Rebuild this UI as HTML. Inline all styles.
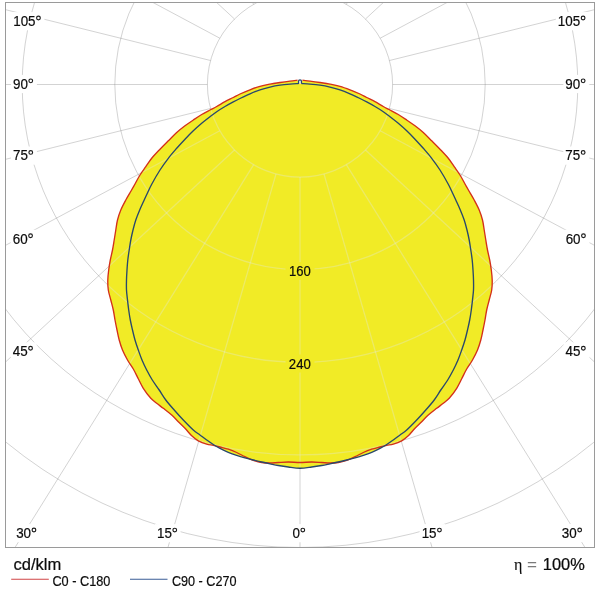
<!DOCTYPE html>
<html><head><meta charset="utf-8"><title>Polar diagram</title>
<style>
html,body{margin:0;padding:0;background:#fff;width:600px;height:600px;overflow:hidden}
svg{display:block}
text{font-family:"Liberation Sans",sans-serif;fill:#0c0c0c;stroke:#0c0c0c;stroke-width:0.22px}
</style></head><body>
<svg width="600" height="600" viewBox="0 0 600 600">
<defs>
<clipPath id="frame"><rect x="5.5" y="2.5" width="589" height="545"/></clipPath>
<clipPath id="fillclip"><path d="M297.50,80.20C296.25,80.35 292.92,80.72 290.00,81.10C287.08,81.48 283.33,82.00 280.00,82.50C276.67,83.00 273.33,83.47 270.00,84.10C266.67,84.73 263.33,85.35 260.00,86.30C256.67,87.25 253.33,88.52 250.00,89.80C246.67,91.08 242.78,92.72 240.00,94.00C237.22,95.28 235.80,96.22 233.30,97.50C230.80,98.78 227.77,100.20 225.00,101.70C222.23,103.20 219.20,105.12 216.70,106.50C214.20,107.88 212.50,108.67 210.00,110.00C207.50,111.33 204.48,112.83 201.70,114.50C198.92,116.17 196.08,118.12 193.30,120.00C190.52,121.88 187.77,123.72 185.00,125.80C182.23,127.88 179.48,130.00 176.70,132.50C173.92,135.00 171.08,138.02 168.30,140.80C165.52,143.58 162.77,146.28 160.00,149.20C157.23,152.12 154.07,155.38 151.70,158.30C149.33,161.22 147.75,163.92 145.80,166.70C143.85,169.48 141.80,172.12 140.00,175.00C138.20,177.88 136.45,181.42 135.00,184.00C133.55,186.58 132.83,187.83 131.30,190.50C129.77,193.17 127.55,196.75 125.80,200.00C124.05,203.25 122.18,206.67 120.80,210.00C119.42,213.33 118.33,216.67 117.50,220.00C116.67,223.33 116.35,226.67 115.80,230.00C115.25,233.33 114.75,236.67 114.20,240.00C113.65,243.33 113.15,246.67 112.50,250.00C111.85,253.33 110.93,256.67 110.30,260.00C109.67,263.33 109.12,266.67 108.70,270.00C108.28,273.33 107.87,276.67 107.80,280.00C107.73,283.33 107.80,286.67 108.30,290.00C108.80,293.33 109.97,296.67 110.80,300.00C111.63,303.33 112.60,306.67 113.30,310.00C114.00,313.33 114.38,316.67 115.00,320.00C115.62,323.33 116.30,326.67 117.00,330.00C117.70,333.33 118.28,336.67 119.20,340.00C120.12,343.33 121.12,346.67 122.50,350.00C123.88,353.33 125.70,356.83 127.50,360.00C129.30,363.17 131.50,365.87 133.30,369.00C135.10,372.13 136.63,375.58 138.30,378.80C139.97,382.02 141.22,385.05 143.30,388.30C145.38,391.55 148.57,395.80 150.80,398.30C153.03,400.80 154.62,401.63 156.70,403.30C158.78,404.97 160.80,406.35 163.30,408.30C165.80,410.25 169.20,412.77 171.70,415.00C174.20,417.23 176.08,419.48 178.30,421.70C180.52,423.92 182.77,425.95 185.00,428.30C187.23,430.65 189.48,433.72 191.70,435.80C193.92,437.88 195.80,439.40 198.30,440.80C200.80,442.20 204.20,443.45 206.70,444.20C209.20,444.95 211.08,444.83 213.30,445.30C215.52,445.77 217.50,446.35 220.00,447.00C222.50,447.65 225.52,448.28 228.30,449.20C231.08,450.12 233.92,451.25 236.70,452.50C239.48,453.75 242.23,455.40 245.00,456.70C247.77,458.00 250.52,459.33 253.30,460.30C256.08,461.27 258.92,462.05 261.70,462.50C264.48,462.95 267.23,463.00 270.00,463.00C272.77,463.00 275.25,462.67 278.30,462.50C281.35,462.33 284.68,462.00 288.30,462.00C291.92,462.00 296.10,462.50 300.00,462.50C303.90,462.50 308.08,462.00 311.70,462.00C315.32,462.00 318.65,462.33 321.70,462.50C324.75,462.67 327.23,463.00 330.00,463.00C332.77,463.00 335.52,462.95 338.30,462.50C341.08,462.05 343.92,461.27 346.70,460.30C349.48,459.33 352.23,458.00 355.00,456.70C357.77,455.40 360.52,453.75 363.30,452.50C366.08,451.25 368.92,450.12 371.70,449.20C374.48,448.28 377.50,447.65 380.00,447.00C382.50,446.35 384.48,445.77 386.70,445.30C388.92,444.83 390.80,444.95 393.30,444.20C395.80,443.45 399.20,442.20 401.70,440.80C404.20,439.40 406.08,437.88 408.30,435.80C410.52,433.72 412.77,430.65 415.00,428.30C417.23,425.95 419.48,423.92 421.70,421.70C423.92,419.48 425.80,417.23 428.30,415.00C430.80,412.77 434.20,410.25 436.70,408.30C439.20,406.35 441.22,404.97 443.30,403.30C445.38,401.63 446.97,400.80 449.20,398.30C451.43,395.80 454.62,391.55 456.70,388.30C458.78,385.05 460.03,382.02 461.70,378.80C463.37,375.58 464.90,372.13 466.70,369.00C468.50,365.87 470.70,363.17 472.50,360.00C474.30,356.83 476.12,353.33 477.50,350.00C478.88,346.67 479.88,343.33 480.80,340.00C481.72,336.67 482.30,333.33 483.00,330.00C483.70,326.67 484.38,323.33 485.00,320.00C485.62,316.67 486.00,313.33 486.70,310.00C487.40,306.67 488.37,303.33 489.20,300.00C490.03,296.67 491.20,293.33 491.70,290.00C492.20,286.67 492.27,283.33 492.20,280.00C492.13,276.67 491.72,273.33 491.30,270.00C490.88,266.67 490.33,263.33 489.70,260.00C489.07,256.67 488.15,253.33 487.50,250.00C486.85,246.67 486.35,243.33 485.80,240.00C485.25,236.67 484.75,233.33 484.20,230.00C483.65,226.67 483.33,223.33 482.50,220.00C481.67,216.67 480.58,213.33 479.20,210.00C477.82,206.67 475.95,203.25 474.20,200.00C472.45,196.75 470.23,193.17 468.70,190.50C467.17,187.83 466.45,186.58 465.00,184.00C463.55,181.42 461.80,177.88 460.00,175.00C458.20,172.12 456.15,169.48 454.20,166.70C452.25,163.92 450.67,161.22 448.30,158.30C445.93,155.38 442.77,152.12 440.00,149.20C437.23,146.28 434.48,143.58 431.70,140.80C428.92,138.02 426.08,135.00 423.30,132.50C420.52,130.00 417.77,127.88 415.00,125.80C412.23,123.72 409.48,121.88 406.70,120.00C403.92,118.12 401.08,116.17 398.30,114.50C395.52,112.83 392.50,111.33 390.00,110.00C387.50,108.67 385.80,107.88 383.30,106.50C380.80,105.12 377.77,103.20 375.00,101.70C372.23,100.20 369.20,98.78 366.70,97.50C364.20,96.22 362.78,95.28 360.00,94.00C357.22,92.72 353.33,91.08 350.00,89.80C346.67,88.52 343.33,87.25 340.00,86.30C336.67,85.35 333.33,84.73 330.00,84.10C326.67,83.47 323.33,83.00 320.00,82.50C316.67,82.00 312.92,81.48 310.00,81.10C307.08,80.72 303.75,80.35 302.50,80.20L301.4,83.6L298.6,83.6Z"/><path d="M298.00,83.60C296.67,83.68 293.00,83.83 290.00,84.10C287.00,84.37 283.33,84.70 280.00,85.20C276.67,85.70 273.33,86.33 270.00,87.10C266.67,87.87 263.33,88.68 260.00,89.80C256.67,90.92 253.33,92.35 250.00,93.80C246.67,95.25 242.78,97.15 240.00,98.50C237.22,99.85 235.80,100.57 233.30,101.90C230.80,103.23 227.77,104.87 225.00,106.50C222.23,108.13 219.20,110.00 216.70,111.70C214.20,113.40 212.50,114.77 210.00,116.70C207.50,118.63 204.48,120.95 201.70,123.30C198.92,125.65 196.08,128.15 193.30,130.80C190.52,133.45 187.77,136.28 185.00,139.20C182.23,142.12 179.48,145.12 176.70,148.30C173.92,151.48 171.08,154.68 168.30,158.30C165.52,161.92 162.77,165.68 160.00,170.00C157.23,174.32 153.75,180.45 151.70,184.20C149.65,187.95 148.95,189.87 147.70,192.50C146.45,195.13 145.53,197.08 144.20,200.00C142.87,202.92 141.10,206.67 139.70,210.00C138.30,213.33 136.92,216.67 135.80,220.00C134.68,223.33 133.83,226.67 133.00,230.00C132.17,233.33 131.43,236.67 130.80,240.00C130.17,243.33 129.70,246.67 129.20,250.00C128.70,253.33 128.17,256.67 127.80,260.00C127.43,263.33 127.22,266.67 127.00,270.00C126.78,273.33 126.58,276.67 126.50,280.00C126.42,283.33 126.33,286.67 126.50,290.00C126.67,293.33 127.13,296.67 127.50,300.00C127.87,303.33 128.23,306.67 128.70,310.00C129.17,313.33 129.67,316.67 130.30,320.00C130.93,323.33 131.72,326.67 132.50,330.00C133.28,333.33 134.03,336.67 135.00,340.00C135.97,343.33 137.13,346.67 138.30,350.00C139.47,353.33 140.60,356.67 142.00,360.00C143.40,363.33 144.98,366.67 146.70,370.00C148.42,373.33 150.22,376.67 152.30,380.00C154.38,383.33 156.95,386.67 159.20,390.00C161.45,393.33 163.30,396.67 165.80,400.00C168.30,403.33 171.28,406.67 174.20,410.00C177.12,413.33 180.12,416.67 183.30,420.00C186.48,423.33 190.52,427.50 193.30,430.00C196.08,432.50 197.77,433.33 200.00,435.00C202.23,436.67 204.48,438.42 206.70,440.00C208.92,441.58 211.08,443.12 213.30,444.50C215.52,445.88 217.50,447.00 220.00,448.30C222.50,449.60 225.52,451.13 228.30,452.30C231.08,453.47 233.92,454.38 236.70,455.30C239.48,456.22 242.23,457.02 245.00,457.80C247.77,458.58 250.52,459.30 253.30,460.00C256.08,460.70 258.92,461.37 261.70,462.00C264.48,462.63 267.23,463.22 270.00,463.80C272.77,464.38 275.25,464.97 278.30,465.50C281.35,466.03 284.68,466.55 288.30,467.00C291.92,467.45 296.10,468.20 300.00,468.20C303.90,468.20 308.08,467.45 311.70,467.00C315.32,466.55 318.65,466.03 321.70,465.50C324.75,464.97 327.23,464.38 330.00,463.80C332.77,463.22 335.52,462.63 338.30,462.00C341.08,461.37 343.92,460.70 346.70,460.00C349.48,459.30 352.23,458.58 355.00,457.80C357.77,457.02 360.52,456.22 363.30,455.30C366.08,454.38 368.92,453.47 371.70,452.30C374.48,451.13 377.50,449.60 380.00,448.30C382.50,447.00 384.48,445.88 386.70,444.50C388.92,443.12 391.08,441.58 393.30,440.00C395.52,438.42 397.77,436.67 400.00,435.00C402.23,433.33 403.92,432.50 406.70,430.00C409.48,427.50 413.52,423.33 416.70,420.00C419.88,416.67 422.88,413.33 425.80,410.00C428.72,406.67 431.70,403.33 434.20,400.00C436.70,396.67 438.55,393.33 440.80,390.00C443.05,386.67 445.62,383.33 447.70,380.00C449.78,376.67 451.58,373.33 453.30,370.00C455.02,366.67 456.60,363.33 458.00,360.00C459.40,356.67 460.53,353.33 461.70,350.00C462.87,346.67 464.03,343.33 465.00,340.00C465.97,336.67 466.72,333.33 467.50,330.00C468.28,326.67 469.07,323.33 469.70,320.00C470.33,316.67 470.83,313.33 471.30,310.00C471.77,306.67 472.13,303.33 472.50,300.00C472.87,296.67 473.33,293.33 473.50,290.00C473.67,286.67 473.58,283.33 473.50,280.00C473.42,276.67 473.22,273.33 473.00,270.00C472.78,266.67 472.57,263.33 472.20,260.00C471.83,256.67 471.30,253.33 470.80,250.00C470.30,246.67 469.83,243.33 469.20,240.00C468.57,236.67 467.83,233.33 467.00,230.00C466.17,226.67 465.32,223.33 464.20,220.00C463.08,216.67 461.70,213.33 460.30,210.00C458.90,206.67 457.13,202.92 455.80,200.00C454.47,197.08 453.55,195.13 452.30,192.50C451.05,189.87 450.35,187.95 448.30,184.20C446.25,180.45 442.77,174.32 440.00,170.00C437.23,165.68 434.48,161.92 431.70,158.30C428.92,154.68 426.08,151.48 423.30,148.30C420.52,145.12 417.77,142.12 415.00,139.20C412.23,136.28 409.48,133.45 406.70,130.80C403.92,128.15 401.08,125.65 398.30,123.30C395.52,120.95 392.50,118.63 390.00,116.70C387.50,114.77 385.80,113.40 383.30,111.70C380.80,110.00 377.77,108.13 375.00,106.50C372.23,104.87 369.20,103.23 366.70,101.90C364.20,100.57 362.78,99.85 360.00,98.50C357.22,97.15 353.33,95.25 350.00,93.80C346.67,92.35 343.33,90.92 340.00,89.80C336.67,88.68 333.33,87.87 330.00,87.10C326.67,86.33 323.33,85.70 320.00,85.20C316.67,84.70 313.00,84.37 310.00,84.10C307.00,83.83 303.33,83.68 302.00,83.60Z"/></clipPath>
</defs>
<rect width="600" height="600" fill="#fff"/>
<g clip-path="url(#frame)">
 <g fill="none" stroke="#787878" stroke-opacity="0.33" stroke-width="1"><circle cx="300.0" cy="84.5" r="92.60"/><circle cx="300.0" cy="84.5" r="185.20"/><circle cx="300.0" cy="84.5" r="277.80"/><circle cx="300.0" cy="84.5" r="370.40"/><circle cx="300.0" cy="84.5" r="463.00"/><circle cx="300.0" cy="84.5" r="555.60"/><line x1="300.00" y1="177.10" x2="300.00" y2="877.10"/><line x1="323.97" y1="173.94" x2="518.55" y2="846.36"/><line x1="346.30" y1="164.69" x2="716.67" y2="758.68"/><line x1="365.48" y1="149.98" x2="879.11" y2="625.56"/><line x1="380.19" y1="130.80" x2="997.52" y2="460.81"/><line x1="389.44" y1="108.47" x2="1068.85" y2="277.03"/><line x1="392.60" y1="84.50" x2="1092.60" y2="84.50"/><line x1="389.44" y1="60.53" x2="1068.85" y2="-108.03"/><line x1="380.19" y1="38.20" x2="997.52" y2="-291.81"/><line x1="365.48" y1="19.02" x2="879.11" y2="-456.56"/><line x1="346.30" y1="4.31" x2="716.67" y2="-589.68"/><line x1="323.97" y1="-4.94" x2="518.55" y2="-677.36"/><line x1="300.00" y1="-8.10" x2="300.00" y2="-708.10"/><line x1="276.03" y1="-4.94" x2="81.45" y2="-677.36"/><line x1="253.70" y1="4.31" x2="-116.67" y2="-589.68"/><line x1="234.52" y1="19.02" x2="-279.11" y2="-456.56"/><line x1="219.81" y1="38.20" x2="-397.52" y2="-291.81"/><line x1="210.56" y1="60.53" x2="-468.85" y2="-108.03"/><line x1="207.40" y1="84.50" x2="-492.60" y2="84.50"/><line x1="210.56" y1="108.47" x2="-468.85" y2="277.03"/><line x1="219.81" y1="130.80" x2="-397.52" y2="460.81"/><line x1="234.52" y1="149.98" x2="-279.11" y2="625.56"/><line x1="253.70" y1="164.69" x2="-116.67" y2="758.68"/><line x1="276.03" y1="173.94" x2="81.45" y2="846.36"/></g>
 <path d="M297.50,80.20C296.25,80.35 292.92,80.72 290.00,81.10C287.08,81.48 283.33,82.00 280.00,82.50C276.67,83.00 273.33,83.47 270.00,84.10C266.67,84.73 263.33,85.35 260.00,86.30C256.67,87.25 253.33,88.52 250.00,89.80C246.67,91.08 242.78,92.72 240.00,94.00C237.22,95.28 235.80,96.22 233.30,97.50C230.80,98.78 227.77,100.20 225.00,101.70C222.23,103.20 219.20,105.12 216.70,106.50C214.20,107.88 212.50,108.67 210.00,110.00C207.50,111.33 204.48,112.83 201.70,114.50C198.92,116.17 196.08,118.12 193.30,120.00C190.52,121.88 187.77,123.72 185.00,125.80C182.23,127.88 179.48,130.00 176.70,132.50C173.92,135.00 171.08,138.02 168.30,140.80C165.52,143.58 162.77,146.28 160.00,149.20C157.23,152.12 154.07,155.38 151.70,158.30C149.33,161.22 147.75,163.92 145.80,166.70C143.85,169.48 141.80,172.12 140.00,175.00C138.20,177.88 136.45,181.42 135.00,184.00C133.55,186.58 132.83,187.83 131.30,190.50C129.77,193.17 127.55,196.75 125.80,200.00C124.05,203.25 122.18,206.67 120.80,210.00C119.42,213.33 118.33,216.67 117.50,220.00C116.67,223.33 116.35,226.67 115.80,230.00C115.25,233.33 114.75,236.67 114.20,240.00C113.65,243.33 113.15,246.67 112.50,250.00C111.85,253.33 110.93,256.67 110.30,260.00C109.67,263.33 109.12,266.67 108.70,270.00C108.28,273.33 107.87,276.67 107.80,280.00C107.73,283.33 107.80,286.67 108.30,290.00C108.80,293.33 109.97,296.67 110.80,300.00C111.63,303.33 112.60,306.67 113.30,310.00C114.00,313.33 114.38,316.67 115.00,320.00C115.62,323.33 116.30,326.67 117.00,330.00C117.70,333.33 118.28,336.67 119.20,340.00C120.12,343.33 121.12,346.67 122.50,350.00C123.88,353.33 125.70,356.83 127.50,360.00C129.30,363.17 131.50,365.87 133.30,369.00C135.10,372.13 136.63,375.58 138.30,378.80C139.97,382.02 141.22,385.05 143.30,388.30C145.38,391.55 148.57,395.80 150.80,398.30C153.03,400.80 154.62,401.63 156.70,403.30C158.78,404.97 160.80,406.35 163.30,408.30C165.80,410.25 169.20,412.77 171.70,415.00C174.20,417.23 176.08,419.48 178.30,421.70C180.52,423.92 182.77,425.95 185.00,428.30C187.23,430.65 189.48,433.72 191.70,435.80C193.92,437.88 195.80,439.40 198.30,440.80C200.80,442.20 204.20,443.45 206.70,444.20C209.20,444.95 211.08,444.83 213.30,445.30C215.52,445.77 217.50,446.35 220.00,447.00C222.50,447.65 225.52,448.28 228.30,449.20C231.08,450.12 233.92,451.25 236.70,452.50C239.48,453.75 242.23,455.40 245.00,456.70C247.77,458.00 250.52,459.33 253.30,460.30C256.08,461.27 258.92,462.05 261.70,462.50C264.48,462.95 267.23,463.00 270.00,463.00C272.77,463.00 275.25,462.67 278.30,462.50C281.35,462.33 284.68,462.00 288.30,462.00C291.92,462.00 296.10,462.50 300.00,462.50C303.90,462.50 308.08,462.00 311.70,462.00C315.32,462.00 318.65,462.33 321.70,462.50C324.75,462.67 327.23,463.00 330.00,463.00C332.77,463.00 335.52,462.95 338.30,462.50C341.08,462.05 343.92,461.27 346.70,460.30C349.48,459.33 352.23,458.00 355.00,456.70C357.77,455.40 360.52,453.75 363.30,452.50C366.08,451.25 368.92,450.12 371.70,449.20C374.48,448.28 377.50,447.65 380.00,447.00C382.50,446.35 384.48,445.77 386.70,445.30C388.92,444.83 390.80,444.95 393.30,444.20C395.80,443.45 399.20,442.20 401.70,440.80C404.20,439.40 406.08,437.88 408.30,435.80C410.52,433.72 412.77,430.65 415.00,428.30C417.23,425.95 419.48,423.92 421.70,421.70C423.92,419.48 425.80,417.23 428.30,415.00C430.80,412.77 434.20,410.25 436.70,408.30C439.20,406.35 441.22,404.97 443.30,403.30C445.38,401.63 446.97,400.80 449.20,398.30C451.43,395.80 454.62,391.55 456.70,388.30C458.78,385.05 460.03,382.02 461.70,378.80C463.37,375.58 464.90,372.13 466.70,369.00C468.50,365.87 470.70,363.17 472.50,360.00C474.30,356.83 476.12,353.33 477.50,350.00C478.88,346.67 479.88,343.33 480.80,340.00C481.72,336.67 482.30,333.33 483.00,330.00C483.70,326.67 484.38,323.33 485.00,320.00C485.62,316.67 486.00,313.33 486.70,310.00C487.40,306.67 488.37,303.33 489.20,300.00C490.03,296.67 491.20,293.33 491.70,290.00C492.20,286.67 492.27,283.33 492.20,280.00C492.13,276.67 491.72,273.33 491.30,270.00C490.88,266.67 490.33,263.33 489.70,260.00C489.07,256.67 488.15,253.33 487.50,250.00C486.85,246.67 486.35,243.33 485.80,240.00C485.25,236.67 484.75,233.33 484.20,230.00C483.65,226.67 483.33,223.33 482.50,220.00C481.67,216.67 480.58,213.33 479.20,210.00C477.82,206.67 475.95,203.25 474.20,200.00C472.45,196.75 470.23,193.17 468.70,190.50C467.17,187.83 466.45,186.58 465.00,184.00C463.55,181.42 461.80,177.88 460.00,175.00C458.20,172.12 456.15,169.48 454.20,166.70C452.25,163.92 450.67,161.22 448.30,158.30C445.93,155.38 442.77,152.12 440.00,149.20C437.23,146.28 434.48,143.58 431.70,140.80C428.92,138.02 426.08,135.00 423.30,132.50C420.52,130.00 417.77,127.88 415.00,125.80C412.23,123.72 409.48,121.88 406.70,120.00C403.92,118.12 401.08,116.17 398.30,114.50C395.52,112.83 392.50,111.33 390.00,110.00C387.50,108.67 385.80,107.88 383.30,106.50C380.80,105.12 377.77,103.20 375.00,101.70C372.23,100.20 369.20,98.78 366.70,97.50C364.20,96.22 362.78,95.28 360.00,94.00C357.22,92.72 353.33,91.08 350.00,89.80C346.67,88.52 343.33,87.25 340.00,86.30C336.67,85.35 333.33,84.73 330.00,84.10C326.67,83.47 323.33,83.00 320.00,82.50C316.67,82.00 312.92,81.48 310.00,81.10C307.08,80.72 303.75,80.35 302.50,80.20L301.4,83.6L298.6,83.6Z" fill="#f1eb26"/>
 <path d="M298.00,83.60C296.67,83.68 293.00,83.83 290.00,84.10C287.00,84.37 283.33,84.70 280.00,85.20C276.67,85.70 273.33,86.33 270.00,87.10C266.67,87.87 263.33,88.68 260.00,89.80C256.67,90.92 253.33,92.35 250.00,93.80C246.67,95.25 242.78,97.15 240.00,98.50C237.22,99.85 235.80,100.57 233.30,101.90C230.80,103.23 227.77,104.87 225.00,106.50C222.23,108.13 219.20,110.00 216.70,111.70C214.20,113.40 212.50,114.77 210.00,116.70C207.50,118.63 204.48,120.95 201.70,123.30C198.92,125.65 196.08,128.15 193.30,130.80C190.52,133.45 187.77,136.28 185.00,139.20C182.23,142.12 179.48,145.12 176.70,148.30C173.92,151.48 171.08,154.68 168.30,158.30C165.52,161.92 162.77,165.68 160.00,170.00C157.23,174.32 153.75,180.45 151.70,184.20C149.65,187.95 148.95,189.87 147.70,192.50C146.45,195.13 145.53,197.08 144.20,200.00C142.87,202.92 141.10,206.67 139.70,210.00C138.30,213.33 136.92,216.67 135.80,220.00C134.68,223.33 133.83,226.67 133.00,230.00C132.17,233.33 131.43,236.67 130.80,240.00C130.17,243.33 129.70,246.67 129.20,250.00C128.70,253.33 128.17,256.67 127.80,260.00C127.43,263.33 127.22,266.67 127.00,270.00C126.78,273.33 126.58,276.67 126.50,280.00C126.42,283.33 126.33,286.67 126.50,290.00C126.67,293.33 127.13,296.67 127.50,300.00C127.87,303.33 128.23,306.67 128.70,310.00C129.17,313.33 129.67,316.67 130.30,320.00C130.93,323.33 131.72,326.67 132.50,330.00C133.28,333.33 134.03,336.67 135.00,340.00C135.97,343.33 137.13,346.67 138.30,350.00C139.47,353.33 140.60,356.67 142.00,360.00C143.40,363.33 144.98,366.67 146.70,370.00C148.42,373.33 150.22,376.67 152.30,380.00C154.38,383.33 156.95,386.67 159.20,390.00C161.45,393.33 163.30,396.67 165.80,400.00C168.30,403.33 171.28,406.67 174.20,410.00C177.12,413.33 180.12,416.67 183.30,420.00C186.48,423.33 190.52,427.50 193.30,430.00C196.08,432.50 197.77,433.33 200.00,435.00C202.23,436.67 204.48,438.42 206.70,440.00C208.92,441.58 211.08,443.12 213.30,444.50C215.52,445.88 217.50,447.00 220.00,448.30C222.50,449.60 225.52,451.13 228.30,452.30C231.08,453.47 233.92,454.38 236.70,455.30C239.48,456.22 242.23,457.02 245.00,457.80C247.77,458.58 250.52,459.30 253.30,460.00C256.08,460.70 258.92,461.37 261.70,462.00C264.48,462.63 267.23,463.22 270.00,463.80C272.77,464.38 275.25,464.97 278.30,465.50C281.35,466.03 284.68,466.55 288.30,467.00C291.92,467.45 296.10,468.20 300.00,468.20C303.90,468.20 308.08,467.45 311.70,467.00C315.32,466.55 318.65,466.03 321.70,465.50C324.75,464.97 327.23,464.38 330.00,463.80C332.77,463.22 335.52,462.63 338.30,462.00C341.08,461.37 343.92,460.70 346.70,460.00C349.48,459.30 352.23,458.58 355.00,457.80C357.77,457.02 360.52,456.22 363.30,455.30C366.08,454.38 368.92,453.47 371.70,452.30C374.48,451.13 377.50,449.60 380.00,448.30C382.50,447.00 384.48,445.88 386.70,444.50C388.92,443.12 391.08,441.58 393.30,440.00C395.52,438.42 397.77,436.67 400.00,435.00C402.23,433.33 403.92,432.50 406.70,430.00C409.48,427.50 413.52,423.33 416.70,420.00C419.88,416.67 422.88,413.33 425.80,410.00C428.72,406.67 431.70,403.33 434.20,400.00C436.70,396.67 438.55,393.33 440.80,390.00C443.05,386.67 445.62,383.33 447.70,380.00C449.78,376.67 451.58,373.33 453.30,370.00C455.02,366.67 456.60,363.33 458.00,360.00C459.40,356.67 460.53,353.33 461.70,350.00C462.87,346.67 464.03,343.33 465.00,340.00C465.97,336.67 466.72,333.33 467.50,330.00C468.28,326.67 469.07,323.33 469.70,320.00C470.33,316.67 470.83,313.33 471.30,310.00C471.77,306.67 472.13,303.33 472.50,300.00C472.87,296.67 473.33,293.33 473.50,290.00C473.67,286.67 473.58,283.33 473.50,280.00C473.42,276.67 473.22,273.33 473.00,270.00C472.78,266.67 472.57,263.33 472.20,260.00C471.83,256.67 471.30,253.33 470.80,250.00C470.30,246.67 469.83,243.33 469.20,240.00C468.57,236.67 467.83,233.33 467.00,230.00C466.17,226.67 465.32,223.33 464.20,220.00C463.08,216.67 461.70,213.33 460.30,210.00C458.90,206.67 457.13,202.92 455.80,200.00C454.47,197.08 453.55,195.13 452.30,192.50C451.05,189.87 450.35,187.95 448.30,184.20C446.25,180.45 442.77,174.32 440.00,170.00C437.23,165.68 434.48,161.92 431.70,158.30C428.92,154.68 426.08,151.48 423.30,148.30C420.52,145.12 417.77,142.12 415.00,139.20C412.23,136.28 409.48,133.45 406.70,130.80C403.92,128.15 401.08,125.65 398.30,123.30C395.52,120.95 392.50,118.63 390.00,116.70C387.50,114.77 385.80,113.40 383.30,111.70C380.80,110.00 377.77,108.13 375.00,106.50C372.23,104.87 369.20,103.23 366.70,101.90C364.20,100.57 362.78,99.85 360.00,98.50C357.22,97.15 353.33,95.25 350.00,93.80C346.67,92.35 343.33,90.92 340.00,89.80C336.67,88.68 333.33,87.87 330.00,87.10C326.67,86.33 323.33,85.70 320.00,85.20C316.67,84.70 313.00,84.37 310.00,84.10C307.00,83.83 303.33,83.68 302.00,83.60Z" fill="#f1eb26"/>
 <g clip-path="url(#fillclip)" fill="none" stroke="#e2e8e0" stroke-opacity="0.35" stroke-width="1.3"><circle cx="300.0" cy="84.5" r="92.60"/><circle cx="300.0" cy="84.5" r="185.20"/><circle cx="300.0" cy="84.5" r="277.80"/><circle cx="300.0" cy="84.5" r="370.40"/><circle cx="300.0" cy="84.5" r="463.00"/><circle cx="300.0" cy="84.5" r="555.60"/><line x1="300.00" y1="177.10" x2="300.00" y2="877.10"/><line x1="323.97" y1="173.94" x2="518.55" y2="846.36"/><line x1="346.30" y1="164.69" x2="716.67" y2="758.68"/><line x1="365.48" y1="149.98" x2="879.11" y2="625.56"/><line x1="380.19" y1="130.80" x2="997.52" y2="460.81"/><line x1="389.44" y1="108.47" x2="1068.85" y2="277.03"/><line x1="392.60" y1="84.50" x2="1092.60" y2="84.50"/><line x1="389.44" y1="60.53" x2="1068.85" y2="-108.03"/><line x1="380.19" y1="38.20" x2="997.52" y2="-291.81"/><line x1="365.48" y1="19.02" x2="879.11" y2="-456.56"/><line x1="346.30" y1="4.31" x2="716.67" y2="-589.68"/><line x1="323.97" y1="-4.94" x2="518.55" y2="-677.36"/><line x1="300.00" y1="-8.10" x2="300.00" y2="-708.10"/><line x1="276.03" y1="-4.94" x2="81.45" y2="-677.36"/><line x1="253.70" y1="4.31" x2="-116.67" y2="-589.68"/><line x1="234.52" y1="19.02" x2="-279.11" y2="-456.56"/><line x1="219.81" y1="38.20" x2="-397.52" y2="-291.81"/><line x1="210.56" y1="60.53" x2="-468.85" y2="-108.03"/><line x1="207.40" y1="84.50" x2="-492.60" y2="84.50"/><line x1="210.56" y1="108.47" x2="-468.85" y2="277.03"/><line x1="219.81" y1="130.80" x2="-397.52" y2="460.81"/><line x1="234.52" y1="149.98" x2="-279.11" y2="625.56"/><line x1="253.70" y1="164.69" x2="-116.67" y2="758.68"/><line x1="276.03" y1="173.94" x2="81.45" y2="846.36"/></g>
 <rect x="285.5" y="262" width="29" height="18" fill="#f1eb26"/>
 <rect x="285.5" y="354.5" width="29" height="18" fill="#f1eb26"/>
 <path d="M297.50,80.20C296.25,80.35 292.92,80.72 290.00,81.10C287.08,81.48 283.33,82.00 280.00,82.50C276.67,83.00 273.33,83.47 270.00,84.10C266.67,84.73 263.33,85.35 260.00,86.30C256.67,87.25 253.33,88.52 250.00,89.80C246.67,91.08 242.78,92.72 240.00,94.00C237.22,95.28 235.80,96.22 233.30,97.50C230.80,98.78 227.77,100.20 225.00,101.70C222.23,103.20 219.20,105.12 216.70,106.50C214.20,107.88 212.50,108.67 210.00,110.00C207.50,111.33 204.48,112.83 201.70,114.50C198.92,116.17 196.08,118.12 193.30,120.00C190.52,121.88 187.77,123.72 185.00,125.80C182.23,127.88 179.48,130.00 176.70,132.50C173.92,135.00 171.08,138.02 168.30,140.80C165.52,143.58 162.77,146.28 160.00,149.20C157.23,152.12 154.07,155.38 151.70,158.30C149.33,161.22 147.75,163.92 145.80,166.70C143.85,169.48 141.80,172.12 140.00,175.00C138.20,177.88 136.45,181.42 135.00,184.00C133.55,186.58 132.83,187.83 131.30,190.50C129.77,193.17 127.55,196.75 125.80,200.00C124.05,203.25 122.18,206.67 120.80,210.00C119.42,213.33 118.33,216.67 117.50,220.00C116.67,223.33 116.35,226.67 115.80,230.00C115.25,233.33 114.75,236.67 114.20,240.00C113.65,243.33 113.15,246.67 112.50,250.00C111.85,253.33 110.93,256.67 110.30,260.00C109.67,263.33 109.12,266.67 108.70,270.00C108.28,273.33 107.87,276.67 107.80,280.00C107.73,283.33 107.80,286.67 108.30,290.00C108.80,293.33 109.97,296.67 110.80,300.00C111.63,303.33 112.60,306.67 113.30,310.00C114.00,313.33 114.38,316.67 115.00,320.00C115.62,323.33 116.30,326.67 117.00,330.00C117.70,333.33 118.28,336.67 119.20,340.00C120.12,343.33 121.12,346.67 122.50,350.00C123.88,353.33 125.70,356.83 127.50,360.00C129.30,363.17 131.50,365.87 133.30,369.00C135.10,372.13 136.63,375.58 138.30,378.80C139.97,382.02 141.22,385.05 143.30,388.30C145.38,391.55 148.57,395.80 150.80,398.30C153.03,400.80 154.62,401.63 156.70,403.30C158.78,404.97 160.80,406.35 163.30,408.30C165.80,410.25 169.20,412.77 171.70,415.00C174.20,417.23 176.08,419.48 178.30,421.70C180.52,423.92 182.77,425.95 185.00,428.30C187.23,430.65 189.48,433.72 191.70,435.80C193.92,437.88 195.80,439.40 198.30,440.80C200.80,442.20 204.20,443.45 206.70,444.20C209.20,444.95 211.08,444.83 213.30,445.30C215.52,445.77 217.50,446.35 220.00,447.00C222.50,447.65 225.52,448.28 228.30,449.20C231.08,450.12 233.92,451.25 236.70,452.50C239.48,453.75 242.23,455.40 245.00,456.70C247.77,458.00 250.52,459.33 253.30,460.30C256.08,461.27 258.92,462.05 261.70,462.50C264.48,462.95 267.23,463.00 270.00,463.00C272.77,463.00 275.25,462.67 278.30,462.50C281.35,462.33 284.68,462.00 288.30,462.00C291.92,462.00 296.10,462.50 300.00,462.50C303.90,462.50 308.08,462.00 311.70,462.00C315.32,462.00 318.65,462.33 321.70,462.50C324.75,462.67 327.23,463.00 330.00,463.00C332.77,463.00 335.52,462.95 338.30,462.50C341.08,462.05 343.92,461.27 346.70,460.30C349.48,459.33 352.23,458.00 355.00,456.70C357.77,455.40 360.52,453.75 363.30,452.50C366.08,451.25 368.92,450.12 371.70,449.20C374.48,448.28 377.50,447.65 380.00,447.00C382.50,446.35 384.48,445.77 386.70,445.30C388.92,444.83 390.80,444.95 393.30,444.20C395.80,443.45 399.20,442.20 401.70,440.80C404.20,439.40 406.08,437.88 408.30,435.80C410.52,433.72 412.77,430.65 415.00,428.30C417.23,425.95 419.48,423.92 421.70,421.70C423.92,419.48 425.80,417.23 428.30,415.00C430.80,412.77 434.20,410.25 436.70,408.30C439.20,406.35 441.22,404.97 443.30,403.30C445.38,401.63 446.97,400.80 449.20,398.30C451.43,395.80 454.62,391.55 456.70,388.30C458.78,385.05 460.03,382.02 461.70,378.80C463.37,375.58 464.90,372.13 466.70,369.00C468.50,365.87 470.70,363.17 472.50,360.00C474.30,356.83 476.12,353.33 477.50,350.00C478.88,346.67 479.88,343.33 480.80,340.00C481.72,336.67 482.30,333.33 483.00,330.00C483.70,326.67 484.38,323.33 485.00,320.00C485.62,316.67 486.00,313.33 486.70,310.00C487.40,306.67 488.37,303.33 489.20,300.00C490.03,296.67 491.20,293.33 491.70,290.00C492.20,286.67 492.27,283.33 492.20,280.00C492.13,276.67 491.72,273.33 491.30,270.00C490.88,266.67 490.33,263.33 489.70,260.00C489.07,256.67 488.15,253.33 487.50,250.00C486.85,246.67 486.35,243.33 485.80,240.00C485.25,236.67 484.75,233.33 484.20,230.00C483.65,226.67 483.33,223.33 482.50,220.00C481.67,216.67 480.58,213.33 479.20,210.00C477.82,206.67 475.95,203.25 474.20,200.00C472.45,196.75 470.23,193.17 468.70,190.50C467.17,187.83 466.45,186.58 465.00,184.00C463.55,181.42 461.80,177.88 460.00,175.00C458.20,172.12 456.15,169.48 454.20,166.70C452.25,163.92 450.67,161.22 448.30,158.30C445.93,155.38 442.77,152.12 440.00,149.20C437.23,146.28 434.48,143.58 431.70,140.80C428.92,138.02 426.08,135.00 423.30,132.50C420.52,130.00 417.77,127.88 415.00,125.80C412.23,123.72 409.48,121.88 406.70,120.00C403.92,118.12 401.08,116.17 398.30,114.50C395.52,112.83 392.50,111.33 390.00,110.00C387.50,108.67 385.80,107.88 383.30,106.50C380.80,105.12 377.77,103.20 375.00,101.70C372.23,100.20 369.20,98.78 366.70,97.50C364.20,96.22 362.78,95.28 360.00,94.00C357.22,92.72 353.33,91.08 350.00,89.80C346.67,88.52 343.33,87.25 340.00,86.30C336.67,85.35 333.33,84.73 330.00,84.10C326.67,83.47 323.33,83.00 320.00,82.50C316.67,82.00 312.92,81.48 310.00,81.10C307.08,80.72 303.75,80.35 302.50,80.20" fill="none" stroke="#d3301a" stroke-width="1.35" stroke-linejoin="round"/>
 <path d="M301.45,83.4L301.45,81.3A1.45,1.45 0 0 0 298.55,81.3L298.55,83.4" fill="#fff" stroke="none"/>
 <path d="M301.45,83.4L301.45,81.3A1.45,1.45 0 0 0 298.55,81.3L298.55,83.4L298.00,83.60C296.67,83.68 293.00,83.83 290.00,84.10C287.00,84.37 283.33,84.70 280.00,85.20C276.67,85.70 273.33,86.33 270.00,87.10C266.67,87.87 263.33,88.68 260.00,89.80C256.67,90.92 253.33,92.35 250.00,93.80C246.67,95.25 242.78,97.15 240.00,98.50C237.22,99.85 235.80,100.57 233.30,101.90C230.80,103.23 227.77,104.87 225.00,106.50C222.23,108.13 219.20,110.00 216.70,111.70C214.20,113.40 212.50,114.77 210.00,116.70C207.50,118.63 204.48,120.95 201.70,123.30C198.92,125.65 196.08,128.15 193.30,130.80C190.52,133.45 187.77,136.28 185.00,139.20C182.23,142.12 179.48,145.12 176.70,148.30C173.92,151.48 171.08,154.68 168.30,158.30C165.52,161.92 162.77,165.68 160.00,170.00C157.23,174.32 153.75,180.45 151.70,184.20C149.65,187.95 148.95,189.87 147.70,192.50C146.45,195.13 145.53,197.08 144.20,200.00C142.87,202.92 141.10,206.67 139.70,210.00C138.30,213.33 136.92,216.67 135.80,220.00C134.68,223.33 133.83,226.67 133.00,230.00C132.17,233.33 131.43,236.67 130.80,240.00C130.17,243.33 129.70,246.67 129.20,250.00C128.70,253.33 128.17,256.67 127.80,260.00C127.43,263.33 127.22,266.67 127.00,270.00C126.78,273.33 126.58,276.67 126.50,280.00C126.42,283.33 126.33,286.67 126.50,290.00C126.67,293.33 127.13,296.67 127.50,300.00C127.87,303.33 128.23,306.67 128.70,310.00C129.17,313.33 129.67,316.67 130.30,320.00C130.93,323.33 131.72,326.67 132.50,330.00C133.28,333.33 134.03,336.67 135.00,340.00C135.97,343.33 137.13,346.67 138.30,350.00C139.47,353.33 140.60,356.67 142.00,360.00C143.40,363.33 144.98,366.67 146.70,370.00C148.42,373.33 150.22,376.67 152.30,380.00C154.38,383.33 156.95,386.67 159.20,390.00C161.45,393.33 163.30,396.67 165.80,400.00C168.30,403.33 171.28,406.67 174.20,410.00C177.12,413.33 180.12,416.67 183.30,420.00C186.48,423.33 190.52,427.50 193.30,430.00C196.08,432.50 197.77,433.33 200.00,435.00C202.23,436.67 204.48,438.42 206.70,440.00C208.92,441.58 211.08,443.12 213.30,444.50C215.52,445.88 217.50,447.00 220.00,448.30C222.50,449.60 225.52,451.13 228.30,452.30C231.08,453.47 233.92,454.38 236.70,455.30C239.48,456.22 242.23,457.02 245.00,457.80C247.77,458.58 250.52,459.30 253.30,460.00C256.08,460.70 258.92,461.37 261.70,462.00C264.48,462.63 267.23,463.22 270.00,463.80C272.77,464.38 275.25,464.97 278.30,465.50C281.35,466.03 284.68,466.55 288.30,467.00C291.92,467.45 296.10,468.20 300.00,468.20C303.90,468.20 308.08,467.45 311.70,467.00C315.32,466.55 318.65,466.03 321.70,465.50C324.75,464.97 327.23,464.38 330.00,463.80C332.77,463.22 335.52,462.63 338.30,462.00C341.08,461.37 343.92,460.70 346.70,460.00C349.48,459.30 352.23,458.58 355.00,457.80C357.77,457.02 360.52,456.22 363.30,455.30C366.08,454.38 368.92,453.47 371.70,452.30C374.48,451.13 377.50,449.60 380.00,448.30C382.50,447.00 384.48,445.88 386.70,444.50C388.92,443.12 391.08,441.58 393.30,440.00C395.52,438.42 397.77,436.67 400.00,435.00C402.23,433.33 403.92,432.50 406.70,430.00C409.48,427.50 413.52,423.33 416.70,420.00C419.88,416.67 422.88,413.33 425.80,410.00C428.72,406.67 431.70,403.33 434.20,400.00C436.70,396.67 438.55,393.33 440.80,390.00C443.05,386.67 445.62,383.33 447.70,380.00C449.78,376.67 451.58,373.33 453.30,370.00C455.02,366.67 456.60,363.33 458.00,360.00C459.40,356.67 460.53,353.33 461.70,350.00C462.87,346.67 464.03,343.33 465.00,340.00C465.97,336.67 466.72,333.33 467.50,330.00C468.28,326.67 469.07,323.33 469.70,320.00C470.33,316.67 470.83,313.33 471.30,310.00C471.77,306.67 472.13,303.33 472.50,300.00C472.87,296.67 473.33,293.33 473.50,290.00C473.67,286.67 473.58,283.33 473.50,280.00C473.42,276.67 473.22,273.33 473.00,270.00C472.78,266.67 472.57,263.33 472.20,260.00C471.83,256.67 471.30,253.33 470.80,250.00C470.30,246.67 469.83,243.33 469.20,240.00C468.57,236.67 467.83,233.33 467.00,230.00C466.17,226.67 465.32,223.33 464.20,220.00C463.08,216.67 461.70,213.33 460.30,210.00C458.90,206.67 457.13,202.92 455.80,200.00C454.47,197.08 453.55,195.13 452.30,192.50C451.05,189.87 450.35,187.95 448.30,184.20C446.25,180.45 442.77,174.32 440.00,170.00C437.23,165.68 434.48,161.92 431.70,158.30C428.92,154.68 426.08,151.48 423.30,148.30C420.52,145.12 417.77,142.12 415.00,139.20C412.23,136.28 409.48,133.45 406.70,130.80C403.92,128.15 401.08,125.65 398.30,123.30C395.52,120.95 392.50,118.63 390.00,116.70C387.50,114.77 385.80,113.40 383.30,111.70C380.80,110.00 377.77,108.13 375.00,106.50C372.23,104.87 369.20,103.23 366.70,101.90C364.20,100.57 362.78,99.85 360.00,98.50C357.22,97.15 353.33,95.25 350.00,93.80C346.67,92.35 343.33,90.92 340.00,89.80C336.67,88.68 333.33,87.87 330.00,87.10C326.67,86.33 323.33,85.70 320.00,85.20C316.67,84.70 313.00,84.37 310.00,84.10C307.00,83.83 303.33,83.68 302.00,83.60L301.45,83.4" fill="none" stroke="#29486c" stroke-width="1.35" stroke-linejoin="round"/>
 <g font-size="14.7"><rect x="11.2" y="12.1" width="33.2" height="18.2" fill="#fff"/><rect x="10.9" y="74.9" width="26.0" height="18.2" fill="#fff"/><rect x="10.9" y="146.5" width="26.0" height="18.2" fill="#fff"/><rect x="10.7" y="229.8" width="25.9" height="18.2" fill="#fff"/><rect x="10.7" y="342.3" width="26.0" height="18.2" fill="#fff"/><rect x="14.1" y="524.0" width="26.3" height="18.2" fill="#fff"/><rect x="154.9" y="524.1" width="25.7" height="18.2" fill="#fff"/><rect x="555.8" y="12.1" width="33.2" height="18.2" fill="#fff"/><rect x="563.3" y="74.9" width="26.0" height="18.2" fill="#fff"/><rect x="563.3" y="146.5" width="26.0" height="18.2" fill="#fff"/><rect x="563.6" y="229.8" width="25.9" height="18.2" fill="#fff"/><rect x="563.5" y="342.3" width="26.0" height="18.2" fill="#fff"/><rect x="559.8" y="524.0" width="26.3" height="18.2" fill="#fff"/><rect x="419.6" y="524.1" width="25.7" height="18.2" fill="#fff"/><rect x="290.4" y="524.1" width="19.3" height="18.2" fill="#fff"/></g><g font-size="14.7" style="will-change:transform"><text x="13.20" y="26.00" textLength="22.35" lengthAdjust="spacingAndGlyphs">105</text><circle cx="38.45" cy="18.05" r="1.85" fill="none" stroke="#1a1a1a" stroke-width="1.15"/><text x="12.95" y="88.80" textLength="14.90" lengthAdjust="spacingAndGlyphs">90</text><circle cx="30.75" cy="80.85" r="1.85" fill="none" stroke="#1a1a1a" stroke-width="1.15"/><text x="12.95" y="160.40" textLength="14.90" lengthAdjust="spacingAndGlyphs">75</text><circle cx="30.75" cy="152.45" r="1.85" fill="none" stroke="#1a1a1a" stroke-width="1.15"/><text x="12.75" y="243.70" textLength="14.90" lengthAdjust="spacingAndGlyphs">60</text><circle cx="30.55" cy="235.75" r="1.85" fill="none" stroke="#1a1a1a" stroke-width="1.15"/><text x="12.75" y="356.20" textLength="14.90" lengthAdjust="spacingAndGlyphs">45</text><circle cx="30.55" cy="348.25" r="1.85" fill="none" stroke="#1a1a1a" stroke-width="1.15"/><text x="16.15" y="537.90" textLength="14.90" lengthAdjust="spacingAndGlyphs">30</text><circle cx="33.95" cy="529.95" r="1.85" fill="none" stroke="#1a1a1a" stroke-width="1.15"/><text x="156.95" y="538.00" textLength="14.90" lengthAdjust="spacingAndGlyphs">15</text><circle cx="174.75" cy="530.05" r="1.85" fill="none" stroke="#1a1a1a" stroke-width="1.15"/><text x="557.85" y="26.00" textLength="22.35" lengthAdjust="spacingAndGlyphs">105</text><circle cx="583.10" cy="18.05" r="1.85" fill="none" stroke="#1a1a1a" stroke-width="1.15"/><text x="565.35" y="88.80" textLength="14.90" lengthAdjust="spacingAndGlyphs">90</text><circle cx="583.15" cy="80.85" r="1.85" fill="none" stroke="#1a1a1a" stroke-width="1.15"/><text x="565.35" y="160.40" textLength="14.90" lengthAdjust="spacingAndGlyphs">75</text><circle cx="583.15" cy="152.45" r="1.85" fill="none" stroke="#1a1a1a" stroke-width="1.15"/><text x="565.65" y="243.70" textLength="14.90" lengthAdjust="spacingAndGlyphs">60</text><circle cx="583.45" cy="235.75" r="1.85" fill="none" stroke="#1a1a1a" stroke-width="1.15"/><text x="565.55" y="356.20" textLength="14.90" lengthAdjust="spacingAndGlyphs">45</text><circle cx="583.35" cy="348.25" r="1.85" fill="none" stroke="#1a1a1a" stroke-width="1.15"/><text x="561.85" y="537.90" textLength="14.90" lengthAdjust="spacingAndGlyphs">30</text><circle cx="579.65" cy="529.95" r="1.85" fill="none" stroke="#1a1a1a" stroke-width="1.15"/><text x="421.65" y="538.00" textLength="14.90" lengthAdjust="spacingAndGlyphs">15</text><circle cx="439.45" cy="530.05" r="1.85" fill="none" stroke="#1a1a1a" stroke-width="1.15"/><text x="292.45" y="538.00" textLength="7.45" lengthAdjust="spacingAndGlyphs">0</text><circle cx="302.80" cy="530.05" r="1.85" fill="none" stroke="#1a1a1a" stroke-width="1.15"/>
  <text x="289" y="276.2" textLength="21.8" lengthAdjust="spacingAndGlyphs">160</text>
  <text x="288.8" y="368.7" textLength="22" lengthAdjust="spacingAndGlyphs">240</text>
 </g>
</g>
<rect x="5.5" y="2.5" width="589" height="545" fill="none" stroke="#9a9a9a" stroke-width="1"/>
<g style="will-change:transform">
<text x="13.5" y="570" font-size="16.8" textLength="47.8" lengthAdjust="spacingAndGlyphs">cd/klm</text>
<line x1="11.2" y1="579.3" x2="48.8" y2="579.3" stroke="#d04446" stroke-width="1.1"/>
<text x="52.4" y="586.3" font-size="14.6" textLength="58" lengthAdjust="spacingAndGlyphs">C0 - C180</text>
<line x1="130" y1="579.3" x2="167.5" y2="579.3" stroke="#3a5c96" stroke-width="1.1"/>
<text x="171.9" y="586.3" font-size="14.6" textLength="64.6" lengthAdjust="spacingAndGlyphs">C90 - C270</text>
<text x="514" y="570" font-size="16" style="font-family:'Liberation Serif',serif;stroke-width:0.1px">η</text>
<text x="527" y="570" font-size="15.7" style="fill:#7a7a7a;stroke:none" textLength="10" lengthAdjust="spacingAndGlyphs">=</text>
<text x="542.8" y="570" font-size="15.7" textLength="42" lengthAdjust="spacingAndGlyphs">100%</text>
</g>
</svg>
</body></html>
